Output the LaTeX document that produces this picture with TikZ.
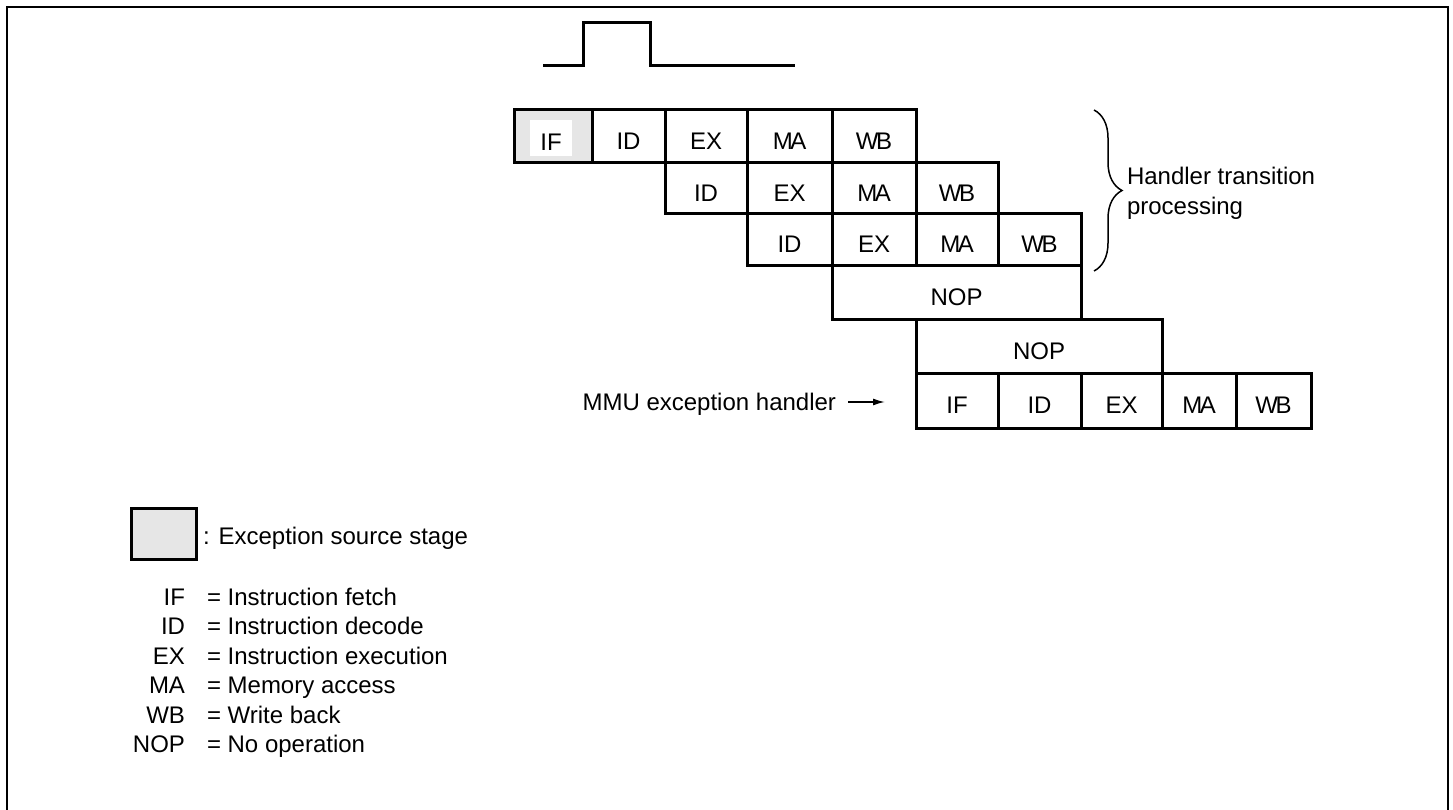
\documentclass[tikz,border=0pt]{standalone}
\usepackage{fontspec}
\setmainfont{Liberation Sans}
\usetikzlibrary{arrows.meta,decorations.pathreplacing}
\definecolor{srcgray}{RGB}{230,230,230}
\begin{document}
\begin{tikzpicture}[x=1pt,y=-1pt,
  every node/.style={font=\fontsize{24}{28.8}\selectfont, inner sep=0pt, outer sep=0pt},
  cell/.style={draw, line width=3pt, rectangle, text height=30pt, text depth=4pt},
  thick line/.style={line width=3pt, line join=miter},
  brace line/.style={line width=1.5pt, decorate, decoration={brace, amplitude=28pt}},
  arrow line/.style={line width=1.5pt, -{Latex[length=12pt,width=7pt]}},
  txt/.style={anchor=base west},
  abbr/.style={anchor=base east}
]
\useasboundingbox (0,0) rectangle (1453,810);
\clip (0,0) rectangle (1453,810);
\fill[white] (0,0) rectangle (1453,810);

% outer frame
\draw[line width=2.5pt] (7,815) -- (7,7) -- (1448,7) -- (1448,815);

% pulse
\draw[thick line] (543,66) -- (583,66) -- (583,23) -- (650,23) -- (650,66) -- (795,66);

% row 1
\node[cell, fill=srcgray, minimum width=78pt, minimum height=53pt] (a1) at (553,136.5) {};
\node[fill=white, minimum width=42pt, minimum height=36pt, text height=30pt, text depth=4pt] (a1t) at (551,138) {IF};
\node[cell, minimum width=73pt, minimum height=53pt] (a2) at (628.5,136.5) {ID};
\node[cell, minimum width=82pt, minimum height=53pt] (a3) at (706,136.5) {EX};
\node[cell, minimum width=85pt, minimum height=53pt] (a4) at (789.5,136.5) {M\kern-2.5pt A};
\node[cell, minimum width=84pt, minimum height=53pt] (a5) at (874,136.5) {W\kern-2.5pt B};

% row 2
\node[cell, minimum width=82pt, minimum height=51pt] (b1) at (706,188.5) {ID};
\node[cell, minimum width=85pt, minimum height=51pt] (b2) at (789.5,188.5) {EX};
\node[cell, minimum width=84pt, minimum height=51pt] (b3) at (874,188.5) {M\kern-2.5pt A};
\node[cell, minimum width=82pt, minimum height=51pt] (b4) at (957,188.5) {W\kern-2.5pt B};

% row 3
\node[cell, minimum width=85pt, minimum height=52pt] (c1) at (789.5,240) {ID};
\node[cell, minimum width=84pt, minimum height=52pt] (c2) at (874,240) {EX};
\node[cell, minimum width=82pt, minimum height=52pt] (c3) at (957,240) {M\kern-2.5pt A};
\node[cell, minimum width=83pt, minimum height=52pt] (c4) at (1039.5,240) {W\kern-2.5pt B};

% row 4
\node[cell, minimum width=249pt, minimum height=53pt] (d1) at (956.5,292.5) {NOP};

% row 5
\node[cell, minimum width=246pt, minimum height=54pt] (e1) at (1039,346) {NOP};

% row 6
\node[cell, minimum width=82pt, minimum height=55pt] (f1) at (957,400.5) {IF};
\node[cell, minimum width=83pt, minimum height=55pt] (f2) at (1039.5,400.5) {ID};
\node[cell, minimum width=81pt, minimum height=55pt] (f3) at (1121.5,400.5) {EX};
\node[cell, minimum width=74pt, minimum height=55pt] (f4) at (1199,400.5) {M\kern-2.5pt A};
\node[cell, minimum width=75pt, minimum height=55pt] (f5) at (1273.5,400.5) {W\kern-2.5pt B};

% brace and its label
\coordinate (bt) at (1094,110);
\coordinate (bb) at (1094,271);
\draw[brace line] (bt) -- (bb);
\node[txt] (h1) at (1127,185) {Handler transition};
\node[txt] (h2) at (1127,215) {processing};

% MMU exception handler
\node[abbr] (mmu) at (836,410) {MMU exception handler};
\coordinate (arrs) at (848,402);
\coordinate (arre) at (885,402);
\draw[arrow line] (arrs) -- (arre);

% legend
\node[draw, line width=3pt, fill=srcgray, minimum width=65pt, minimum height=51pt] (lg) at (163.5,533.5) {};
\node[txt] (lgt) at (203,544) {: Exception source stage};

\node[abbr] (k1) at (185,605) {IF};
\node[txt] (v1) at (207,605) {= Instruction fetch};
\node[abbr] (k2) at (185,634.5) {ID};
\node[txt] (v2) at (207,634.5) {= Instruction decode};
\node[abbr] (k3) at (185,664) {EX};
\node[txt] (v3) at (207,664) {= Instruction execution};
\node[abbr] (k4) at (185,693.5) {MA};
\node[txt] (v4) at (207,693.5) {= Memory access};
\node[abbr] (k5) at (185,723) {WB};
\node[txt] (v5) at (207,723) {= Write back};
\node[abbr] (k6) at (185,752.5) {NOP};
\node[txt] (v6) at (207,752.5) {= No operation};
\end{tikzpicture}
\end{document}
